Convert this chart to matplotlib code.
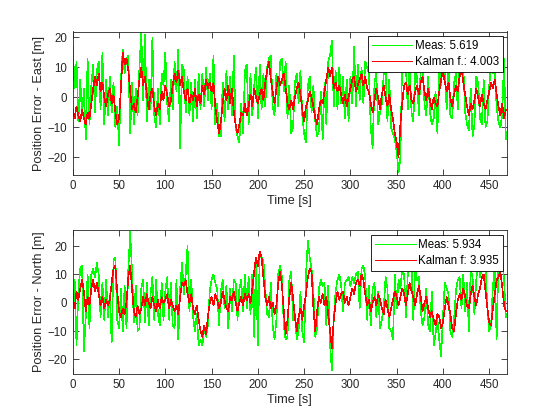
import numpy as np
import matplotlib
matplotlib.use("Agg")
import matplotlib.pyplot as plt

# one sample every 2 s, t = 0 ... 468 s
t_step = 2

# East error: measured (green) and Kalman filtered (red)
meas_east = [
    17, 3, 12, -8, 6, -6, 3, -14, 13, -9,
    4, 11, -5, 9, 12, -4, 15, -9, 6, -6,
    7, -5, 5, -10, -3, -16, 6, 16, 8, 13,
    14, -12, 5, -9, 3, -6, 10, 22, -1, 21,
    -8, 6, -4, 20, -6, -10, 3, -9, 8, 4,
    15, -2, -8, 6, -4, 12, 2, 16, -17, 11,
    9, -5, 7, -6, 5, -8, 6, -7, 8, -4,
    8, -3, 10, -1, 8, -4, 14, -9, -2, -13,
    -13, 5, -8, 9, -4, 7, -6, 14, -10, -13,
    -15, -2, -12, 9, 11, -9, 8, -6, 4, 10,
    -7, 11, -4, 8, -3, 10, 13, 14, -3, -6,
    8, -3, 12, 13, 2, 12, -7, 4, -12, -10,
    5, 8, -2, 9, -6, -12, -15, 4, 7, -5,
    4, -8, -13, -11, 2, -14, 5, -9, 12, 14,
    19, -3, 9, -4, 10, -2, 7, -7, 6, -8,
    7, -2, 17, -3, 11, -1, 10, -2, 12, 10,
    8, -10, -17, 5, 8, -9, -5, -2, 8, 10,
    -8, 6, -10, -12, -14, -18, -25, -20, 14, 15,
    10, -4, 11, -5, -8, 9, 7, -6, 10, 11,
    -2, -6, 7, -5, -9, -7, 2, -12, 10, 4,
    13, 9, -4, 10, -6, -7, 5, 8, -4, 11,
    12, 10, -5, -9, -11, 3, -13, -9, 7, 5,
    -7, -9, 6, -10, -8, 4, 11, 8, 9, -3,
    -8, -10, -6, 13, -14,
]
kalman_east = [
    -4, -7, -3, -6, -8, -4, -7, -9, -5, -7,
    -2, 3, 7, 4, 8, 2, 5, 0, -3, 1,
    3, -2, 1, -5, -9, -7, 3, 15, 11, 13,
    9, 2, -4, -2, -5, 0, 6, 10, 4, 7,
    1, -4, 1, 3, -3, -6, -2, -4, 2, -1,
    4, 1, -3, -1, 4, 8, 5, 9, 4, 7,
    2, -1, 3, -2, 1, -1, 3, -3, 1, -2,
    4, 1, 6, 3, 5, 2, 5, -3, -8, -12,
    -8, -2, 3, -1, 4, -2, 3, -5, -9, -12,
    -9, -5, -6, -2, -6, -3, 1, -3, 3, 0,
    -2, 1, 3, -1, 5, 9, 12, 6, 2, -2,
    3, 7, 4, 6, 8, 3, -2, -4, -1, -4,
    0, 3, 5, 1, -4, -8, -3, -1, 2, 0,
    -3, -7, -9, -4, -1, -2, 2, 6, 10, 7,
    10, 3, 5, 2, 4, 1, -2, 1, -3, 0,
    3, 6, 7, 2, 4, 6, 8, 4, 7, 3,
    2, -2, -5, -1, 3, 0, -4, 1, 4, 0,
    -3, 1, -4, -7, -12, -15, -20, -9, -2, 4,
    5, 1, 4, -1, -2, 2, 4, 1, 5, 7,
    2, -1, 3, -1, -4, 0, -2, -3, 2, 6,
    9, 5, 2, 5, 0, -3, 1, 4, 2, 7,
    10, 5, 1, -3, -6, -2, -4, -1, 3, 0,
    -3, 1, -2, -4, -1, 2, 5, 3, 6, 1,
    -3, -6, -2, -7, -4,
]

# North error
meas_north = [
    -10, 8, -15, 4, 12, 13, -17, -5, 10, -9,
    10, 12, 9, 14, 10, -5, 7, -6, 8, -5,
    3, -14, 15, 16, -6, -9, 5, -10, 6, -9,
    12, 25, 11, -7, 6, -10, -9, 5, 8, -7,
    7, -8, 3, 9, -6, 8, -4, -8, 7, -6,
    4, 9, -6, 7, -8, -9, 8, -13, 5, 14,
    3, 10, 20, -3, 8, -5, -10, -4, -15, -13,
    -15, -9, -12, -8, 4, 8, 10, 7, 5, -8,
    4, 8, -2, 6, -9, 5, -3, 8, 7, -6,
    5, 8, -3, 10, -2, 9, -4, 10, -12, 15,
    -15, 17, 16, 15, 5, -4, -5, 7, -8, -13,
    -6, 10, 13, 9, -8, -13, -12, 8, 11, -6,
    -4, -13, -10, 4, -10, -14, 10, 22, 16, 12,
    4, -12, -9, 5, 8, 6, 7, -8, 6, -15,
    -24, -6, 4, 8, 10, 6, -3, 7, 8, 9,
    6, 9, 7, 10, 11, -2, 12, 13, 9, -6,
    6, -8, 5, 7, -5, 4, -9, -6, -2, 9,
    5, -9, -10, -13, 10, -2, 8, 5, 12, 10,
    -5, 10, 12, 13, -6, 13, 8, 9, -3, -8,
    -5, 5, -8, -10, 4, -15, -11, -6, -13, -19,
    -5, 7, 5, 3, -10, -12, -6, 4, 8, 9,
    -2, 10, -3, 7, -10, 12, 9, -4, 8, 15,
    9, 12, 11, 12, -2, -10, -8, 6, 12, -13,
    16, 12, 16, 8, -5,
]
kalman_north = [
    2, -2, 4, 1, 5, 8, 4, -3, 2, -1,
    5, 8, 4, 7, 3, -1, 2, -2, 1, -1,
    1, 7, 12, 13, 4, -3, -5, -2, -4, 0,
    9, 13, 5, -3, -5, -1, -4, -2, 2, -1,
    3, 0, -2, 2, -1, -3, 1, -2, 2, 0,
    1, 3, -2, 1, -1, -3, -1, -4, 2, 7,
    6, 8, 3, 0, 3, -2, -4, -1, -6, -10,
    -12, -8, -11, -5, 0, 2, -1, 3, 1, -2,
    0, 4, 1, -2, -3, 2, 1, 4, 0, -3,
    0, 2, -1, 3, 1, 3, 0, 5, 11, 16,
    13, 18, 16, 9, 2, -1, 2, -2, 0, -4,
    -1, 7, 11, 6, -3, -11, -6, 2, 7, 2,
    -5, -10, -5, -2, -6, -1, 3, 9, 12, 11,
    -2, -10, -3, 2, 0, 3, -1, 2, -4, -10,
    -16, -6, 0, 4, 1, 3, 4, 0, 2, -1,
    2, 5, 3, 7, 8, 6, 10, 8, 3, -1,
    1, -3, 0, 2, -1, 3, 1, -2, -4, 1,
    -2, -5, -2, 1, 4, 2, -1, 2, 5, 3,
    -1, 3, 7, 4, 2, -1, 3, 6, 2, -3,
    0, 2, -2, -5, -3, -6, -8, -4, -5, -9,
    -7, -2, 2, -1, -4, -9, -10, -4, 1, 3,
    1, 5, 2, -1, -2, 3, 6, 2, -1, 3,
    5, 9, 10, 4, -2, -7, -8, -2, 3, 8,
    9, 11, 6, -1, -3,
]

rms_labels_east = ["Meas: 5.619", "Kalman f.: 4.003"]
rms_labels_north = ["Meas: 5.934", "Kalman f: 3.935"]
ylabels = ["Position Error - East [m]", "Position Error - North [m]"]
ylims = [(-25.8, 22.0), (-25.1, 25.5)]

plt.rcParams['font.family'] = ['Liberation Sans', 'DejaVu Sans']
plt.rcParams['font.size'] = 8.3

fig = plt.figure(figsize=(5.6, 4.2), dpi=100)
axc = '#262626'

panels = [
    (meas_east, kalman_east, rms_labels_east),
    (meas_north, kalman_north, rms_labels_north),
]
bottoms = [0.5838, 0.11]

for i, (meas, kal, labs) in enumerate(panels):
    ax = fig.add_axes([0.13, bottoms[i], 0.775, 0.3412])
    tm = np.arange(len(meas)) * t_step
    tk = np.arange(len(kal)) * t_step
    ax.plot(tm, meas, color=(0, 1, 0), lw=0.45, antialiased=False, label=labs[0])
    ax.plot(tk, kal, color=(1, 0, 0), lw=0.45, antialiased=False, label=labs[1])
    ax.set_xlim(0, 469)
    ax.set_ylim(*ylims[i])
    ax.set_xticks(np.arange(0, 451, 50))
    ax.set_yticks([-20, -10, 0, 10, 20])
    ax.tick_params(direction='in', length=4, width=0.6, colors=axc,
                   top=True, right=True, labelcolor=axc, labelsize=8.3, pad=4)
    for s in ax.spines.values():
        s.set_color(axc)
        s.set_linewidth(0.6)
    ax.set_xlabel("Time [s]", color=axc, fontsize=9.2, labelpad=2)
    ax.set_ylabel(ylabels[i], color=axc, fontsize=9.2, labelpad=2)
    leg = ax.legend(loc='upper right', fancybox=False, framealpha=1,
                    edgecolor='black', fontsize=8.3, handlelength=3.5,
                    handletextpad=0.2, borderaxespad=0.35, borderpad=0.35,
                    labelspacing=0.35)
    leg.get_frame().set_linewidth(0.6)
    for h in leg.get_lines():
        h.set_linewidth(0.45)
        h.set_antialiased(False)

fig.savefig("out.png", dpi=100)
